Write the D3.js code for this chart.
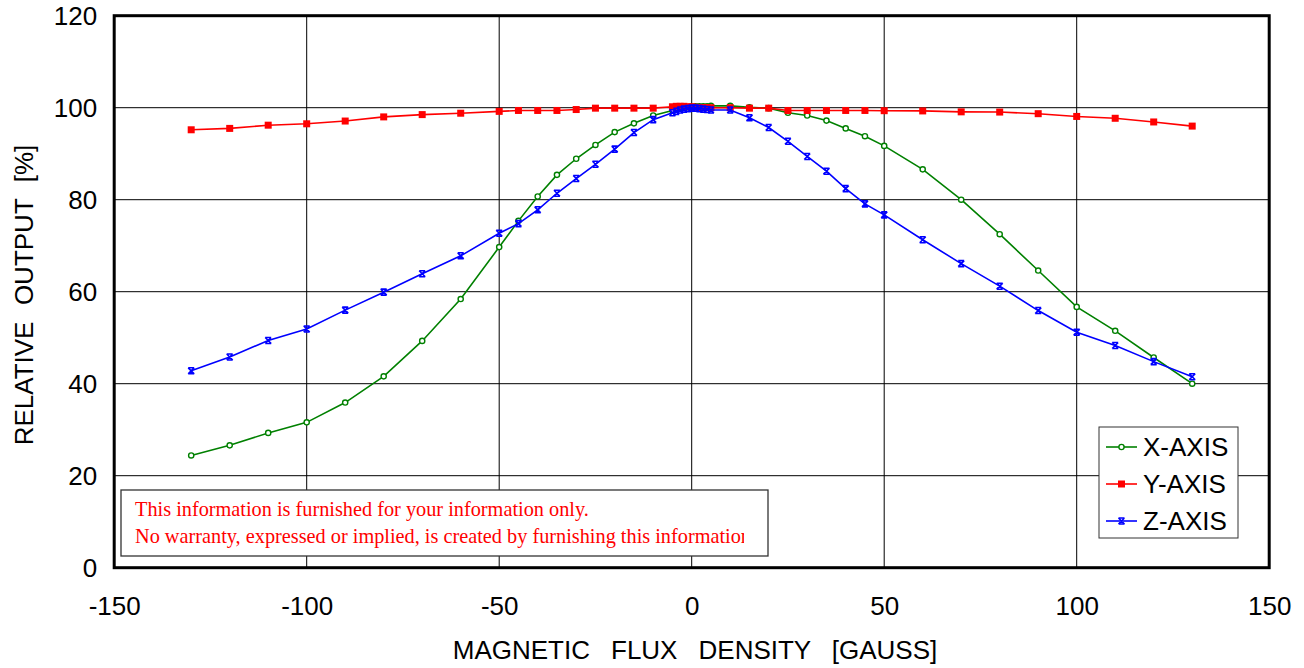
<!DOCTYPE html>
<html>
<head>
<meta charset="utf-8">
<script src="https://cdn.jsdelivr.net/npm/d3@7"></script>
<style>
  body { margin: 0; background: #fff; }
  svg { display: block; font-family: Arial, "Liberation Sans", sans-serif; }
</style>
</head>
<body>
<svg id="chart" width="1304" height="668"></svg>
<script>
// field strength [gauss]
const gauss = [-130, -120, -110, -100, -90, -80, -70, -60, -50, -45, -40, -35, -30, -25, -20, -15, -10, -5,
  -4, -3, -2, -1, 0, 1, 2, 3, 4, 5,
  10, 15, 20, 25, 30, 35, 40, 45, 50, 60, 70, 80, 90, 100, 110, 120, 130]

// relative output [%]
const xAxisOut = [24.4, 26.6, 29.3, 31.6, 35.9, 41.6, 49.3, 58.4, 69.7, 75.4, 80.7, 85.4, 88.9, 91.9, 94.7, 96.6, 98.3, 99.4,
  99.7, 99.9, 100.0, 100.1, 100.2, 100.3, 100.3, 100.3, 100.3, 100.4,
  100.4, 100.1, 99.9, 98.9, 98.3, 97.2, 95.5, 93.8, 91.7, 86.6, 80.0, 72.5, 64.6, 56.7, 51.5, 45.7, 40.0]
const yAxisOut = [95.2, 95.5, 96.2, 96.5, 97.1, 98.0, 98.5, 98.8, 99.2, 99.4, 99.4, 99.4, 99.6, 99.9, 99.9, 99.9, 99.9, 100.2,
  100.3, 100.3, 100.3, 100.2, 100.2, 100.1, 100.0, 100.0, 100.0, 100.0,
  100.0, 99.9, 99.9, 99.4, 99.4, 99.4, 99.4, 99.4, 99.35, 99.3, 99.1, 99.05, 98.7, 98.1, 97.7, 96.9, 96.0]
const zAxisOut = [42.8, 45.8, 49.4, 51.9, 56.0, 59.9, 63.9, 67.8, 72.7, 74.8, 77.8, 81.4, 84.6, 87.7, 91.0, 94.6, 97.4, 98.9,
  99.2, 99.5, 99.7, 99.8, 99.9, 99.9, 99.8, 99.7, 99.6, 99.5,
  99.5, 97.8, 95.7, 92.7, 89.4, 86.2, 82.4, 79.1, 76.7, 71.3, 66.1, 61.2, 55.9, 51.2, 48.3, 44.8, 41.5]

const seriesNames = ["X-AXIS", "Y-AXIS", "Z-AXIS"]
const xTicks = [-150, -100, -50, 0, 50, 100, 150]
const yTicks = [0, 20, 40, 60, 80, 100, 120]
const noteLines = ["This information is furnished for your information only.",
  "No warranty, expressed or implied, is created by furnishing this information"]

const colors = ["#008000", "#ff0000", "#0000ff"]
const series = [xAxisOut, yAxisOut, zAxisOut].map((vals, i) => ({
  name: seriesNames[i],
  color: colors[i],
  kind: i,
  points: gauss.map((g, j) => ({ x: g, y: vals[j] }))
}))

const svg = d3.select("#chart")
const plotL = 114.2, plotR = 1269.2, plotT = 15.7, plotB = 567.7

const x = d3.scaleLinear().domain([-150, 150]).range([plotL, plotR])
const y = d3.scaleLinear().domain([0, 120]).range([plotB, plotT])

// grid
svg.append("g").selectAll("line")
  .data(xTicks.slice(1, -1))
  .enter().append("line")
  .attr("x1", d => x(d)).attr("x2", d => x(d))
  .attr("y1", plotT).attr("y2", plotB)
  .attr("stroke", "#000").attr("stroke-width", 1)
svg.append("g").selectAll("line")
  .data(yTicks.slice(1, -1))
  .enter().append("line")
  .attr("x1", plotL).attr("x2", plotR)
  .attr("y1", d => y(d)).attr("y2", d => y(d))
  .attr("stroke", "#000").attr("stroke-width", 1)

// axes labels (no tick marks), plain hyphen for minus
const xa = svg.append("g")
  .attr("transform", `translate(0,${plotB})`)
  .call(d3.axisBottom(x).tickValues(xTicks).tickSize(0).tickPadding(29).tickFormat(d => String(d)))
xa.select(".domain").remove()
xa.selectAll("text").attr("font-size", 26).attr("font-family", "Arial, 'Liberation Sans'").attr("fill", "#000")

const ya = svg.append("g")
  .attr("transform", `translate(${plotL},0)`)
  .call(d3.axisLeft(y).tickValues(yTicks).tickSize(0).tickPadding(17).tickFormat(d => String(d)))
ya.select(".domain").remove()
ya.selectAll("text").attr("font-size", 26).attr("font-family", "Arial, 'Liberation Sans'").attr("fill", "#000")

svg.append("text")
  .attr("x", 695).attr("y", 659)
  .attr("text-anchor", "middle")
  .attr("font-size", 26)
  .attr("word-spacing", 3.3)
  .style("white-space", "pre")
  .text("MAGNETIC  FLUX  DENSITY  [GAUSS]")

svg.append("text")
  .attr("transform", "translate(33,295) rotate(-90)")
  .attr("text-anchor", "middle")
  .attr("font-size", 26)
  .attr("word-spacing", 1)
  .style("white-space", "pre")
  .text("RELATIVE  OUTPUT  [%]")

// disclaimer box (second line is cut off at the right, as in the original)
svg.append("clipPath").attr("id", "noteclip")
  .append("rect").attr("x", 121).attr("y", 490).attr("width", 623).attr("height", 66)
svg.append("rect")
  .attr("x", 121).attr("y", 490).attr("width", 647).attr("height", 66)
  .attr("fill", "#fff").attr("stroke", "#333").attr("stroke-width", 1.3)
svg.append("g").attr("clip-path", "url(#noteclip)")
  .selectAll("text")
  .data(noteLines)
  .enter().append("text")
  .attr("x", 135)
  .attr("y", (d, i) => 516 + i * 27)
  .attr("fill", "#ff0000")
  .attr("font-family", "'Times New Roman', 'Liberation Serif', serif")
  .attr("font-size", 20.3)
  .text(d => d)

// series
const line = d3.line().x(d => x(d.x)).y(d => y(d.y))

function drawMarker(sel, s) {
  if (s.kind === 0) {
    sel.append("circle").attr("r", 2.6)
      .attr("fill", "#fff").attr("stroke", s.color).attr("stroke-width", 1.4)
  } else if (s.kind === 1) {
    sel.append("rect").attr("x", -3.5).attr("y", -3.5).attr("width", 7).attr("height", 7)
      .attr("fill", s.color)
  } else {
    sel.append("path")
      .attr("d", "M-3,-3L3,3M3,-3L-3,3M-3,-3H3M-3,3H3")
      .attr("fill", "none").attr("stroke", s.color).attr("stroke-width", 1.6)
  }
}

series.forEach(s => {
  const g = svg.append("g")
  g.append("path")
    .datum(s.points)
    .attr("d", line)
    .attr("fill", "none")
    .attr("stroke", s.color)
    .attr("stroke-width", 1.6)
  g.selectAll("g.pt")
    .data(s.points)
    .enter().append("g").attr("class", "pt")
    .attr("transform", d => `translate(${x(d.x)},${y(d.y)})`)
    .each(function () { drawMarker(d3.select(this), s) })
})

// legend
const lg = svg.append("g")
lg.append("rect")
  .attr("x", 1099).attr("y", 427).attr("width", 139).attr("height", 111)
  .attr("fill", "#fff").attr("stroke", "#333").attr("stroke-width", 1)
series.forEach((s, i) => {
  const ly = 447 + i * 37
  lg.append("line")
    .attr("x1", 1106).attr("x2", 1137).attr("y1", ly).attr("y2", ly)
    .attr("stroke", s.color).attr("stroke-width", 1.6)
  drawMarker(lg.append("g").attr("transform", `translate(1121.5,${ly})`), s)
  lg.append("text")
    .attr("x", 1143).attr("y", ly)
    .attr("dy", "0.35em")
    .attr("font-size", 26)
    .text(s.name)
})

// frame
svg.append("rect")
  .attr("x", plotL).attr("y", plotT)
  .attr("width", plotR - plotL).attr("height", plotB - plotT)
  .attr("fill", "none").attr("stroke", "#000").attr("stroke-width", 3)
</script>
</body>
</html>
